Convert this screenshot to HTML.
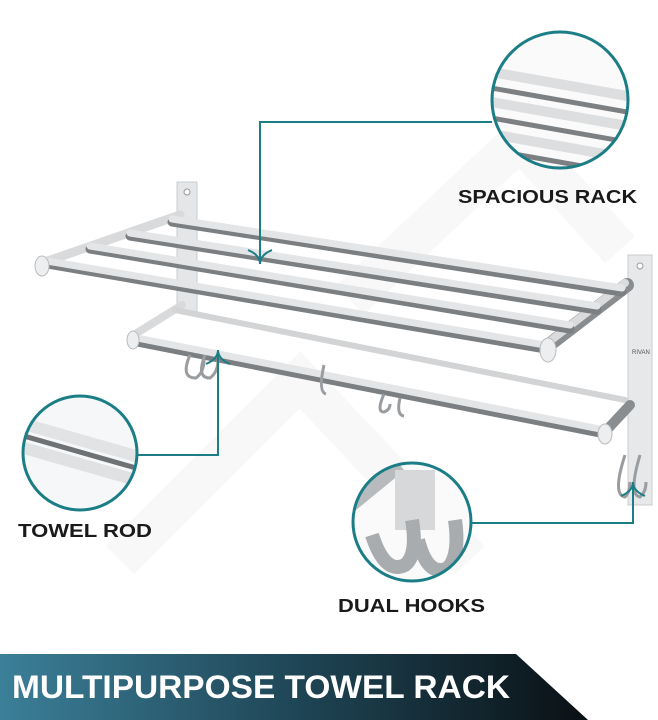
<!DOCTYPE html>
<html><head><meta charset="utf-8"><style>
html,body{margin:0;padding:0;background:#fff;}
svg{display:block}
text{font-family:"Liberation Sans",sans-serif;font-weight:bold}
</style></head><body>
<svg width="658" height="720" viewBox="0 0 658 720" xmlns="http://www.w3.org/2000/svg">
<defs>
<linearGradient id="ban" x1="0" x2="1" y1="0" y2="0">
<stop offset="0" stop-color="#3b7f98"/><stop offset="0.5" stop-color="#1f4656"/><stop offset="1" stop-color="#0a1014"/>
</linearGradient>
<clipPath id="c1"><circle cx="560" cy="100" r="68"/></clipPath>
<clipPath id="c2"><circle cx="80" cy="453" r="57"/></clipPath>
<clipPath id="c3"><circle cx="412" cy="522" r="59"/></clipPath>
</defs>
<rect width="658" height="720" fill="#fff"/>
<g fill="none" stroke="#f8f8f9" stroke-width="40">
<path d="M120 560 L300 380 L470 560"/>
<path d="M350 300 L520 140 L620 250"/>
</g>

<rect x="177" y="182" width="20" height="130" fill="#e4e6e8" stroke="#c9cccf"/>
<circle cx="187" cy="192" r="3" fill="#fff" stroke="#999"/>
<rect x="628" y="255" width="24" height="250" fill="#e6e8ea" stroke="#c9cccf"/>
<circle cx="640" cy="266" r="3" fill="#fff" stroke="#999"/>
<text x="632" y="354" font-size="6" fill="#555" style="font-weight:normal">RIVAN</text>

<g stroke-linecap="round">
<line x1="42" y1="263" x2="180" y2="215" stroke="#d8dadc" stroke-width="9"/>
<line x1="545" y1="348" x2="627" y2="285" stroke="#8a8d90" stroke-width="14"/>
<line x1="545" y1="345" x2="625" y2="283" stroke="#d9dbdd" stroke-width="8"/>
<g stroke="#7c7f82" stroke-width="9">
<line x1="172" y1="222" x2="622" y2="292"/>
<line x1="130" y1="236" x2="597" y2="310"/>
<line x1="90" y1="249" x2="570" y2="329"/>
<line x1="47" y1="264" x2="545" y2="349"/>
</g>
<g stroke="#e3e5e7" stroke-width="7">
<line x1="172" y1="219" x2="622" y2="288"/>
<line x1="130" y1="233" x2="597" y2="306"/>
<line x1="90" y1="246" x2="570" y2="325"/>
<line x1="47" y1="261" x2="545" y2="345"/>
</g>
</g>
<ellipse cx="42" cy="266" rx="7" ry="10" fill="#eceef0" stroke="#bbb"/>
<ellipse cx="548" cy="350" rx="8" ry="12" fill="#eceef0" stroke="#bbb"/>

<g stroke-linecap="round">
<line x1="132" y1="336" x2="182" y2="305" stroke="#d8dadc" stroke-width="8"/>
<line x1="175" y1="310" x2="625" y2="400" stroke="#d2d4d6" stroke-width="6"/>
<line x1="132" y1="341" x2="605" y2="434" stroke="#7c7f82" stroke-width="9"/>
<line x1="132" y1="337" x2="605" y2="430" stroke="#e3e5e7" stroke-width="7"/>
<line x1="603" y1="434" x2="630" y2="405" stroke="#8a8d90" stroke-width="10"/>
</g>
<ellipse cx="133" cy="340" rx="6" ry="9" fill="#eceef0" stroke="#bbb"/>
<ellipse cx="605" cy="434" rx="7" ry="10" fill="#eceef0" stroke="#bbb"/>

<g fill="none" stroke="#9a9da0" stroke-width="3">
<path d="M190 355 Q180 378 196 378 Q204 372 204 360"/>
<path d="M205 355 Q196 378 210 378 Q218 372 218 360"/>
<path d="M324 365 Q318 392 326 394"/>
<path d="M384 394 Q376 412 384 412 Q390 410 390 404"/>
<path d="M400 398 Q396 415 404 416"/>
<path d="M625 455 Q612 495 625 497 Q630 492 630 482"/>
<path d="M640 455 Q628 495 640 497 Q646 492 646 482"/>
</g>

<g clip-path="url(#c1)">
<rect x="490" y="30" width="140" height="140" fill="#fafafa"/>
<g stroke-width="10">
<line x1="480" y1="70" x2="650" y2="100" stroke="#dcdee0"/>
<line x1="480" y1="86" x2="650" y2="116" stroke="#7d8083" stroke-width="5"/>
<line x1="480" y1="100" x2="650" y2="130" stroke="#dcdee0"/>
<line x1="480" y1="116" x2="650" y2="146" stroke="#7d8083" stroke-width="5"/>
<line x1="480" y1="132" x2="650" y2="162" stroke="#dcdee0"/>
<line x1="480" y1="148" x2="650" y2="178" stroke="#7d8083" stroke-width="5"/>
</g>
</g>
<circle cx="560" cy="100" r="68" fill="none" stroke="#1b7d86" stroke-width="3"/>

<g clip-path="url(#c2)">
<rect x="20" y="390" width="130" height="130" fill="#f6f7f8"/>
<line x1="10" y1="420" x2="150" y2="460" stroke="#e1e3e5" stroke-width="12"/>
<line x1="10" y1="432" x2="150" y2="472" stroke="#6f7275" stroke-width="5"/>
<line x1="10" y1="444" x2="150" y2="484" stroke="#dfe1e3" stroke-width="12"/>
</g>
<circle cx="80" cy="453" r="57" fill="none" stroke="#1b7d86" stroke-width="3"/>

<g clip-path="url(#c3)">
<rect x="350" y="460" width="125" height="125" fill="#fafafa"/>
<path d="M345 510 L400 465" stroke="#b8bbbe" stroke-width="14"/>
<rect x="395" y="470" width="40" height="60" fill="#d6d8da"/>
<path d="M372 535 Q385 575 405 565 Q418 555 412 520" fill="none" stroke="#a9acaf" stroke-width="14"/>
<path d="M418 540 Q428 578 448 568 Q460 555 455 520" fill="none" stroke="#a9acaf" stroke-width="14"/>
</g>
<circle cx="412" cy="522" r="59" fill="none" stroke="#1b7d86" stroke-width="3"/>

<g fill="none" stroke="#1b7d86" stroke-width="2">
<polyline points="492,122 260,122 260,262"/>
<path d="M248 250 Q260 255 260 264 Q260 255 272 250"/>
<polyline points="137,455 218,455 218,352"/>
<path d="M206 364 Q218 359 218 350 Q218 359 230 364"/>
<polyline points="471,523 633,523 633,484"/>
<path d="M621 496 Q633 491 633 482 Q633 491 645 496"/>
</g>

<text x="458" y="203" font-size="18" fill="#1a1a1a" textLength="179" lengthAdjust="spacingAndGlyphs">SPACIOUS RACK</text>
<text x="18" y="537" font-size="18" fill="#1a1a1a" textLength="134" lengthAdjust="spacingAndGlyphs">TOWEL ROD</text>
<text x="338" y="612" font-size="18" fill="#1a1a1a" textLength="147" lengthAdjust="spacingAndGlyphs">DUAL HOOKS</text>

<polygon points="0,654 516,654 588,720 0,720" fill="url(#ban)"/>
<text x="12" y="698" font-size="32" fill="#fff" textLength="498" lengthAdjust="spacingAndGlyphs">MULTIPURPOSE TOWEL RACK</text>
</svg>
</body></html>
